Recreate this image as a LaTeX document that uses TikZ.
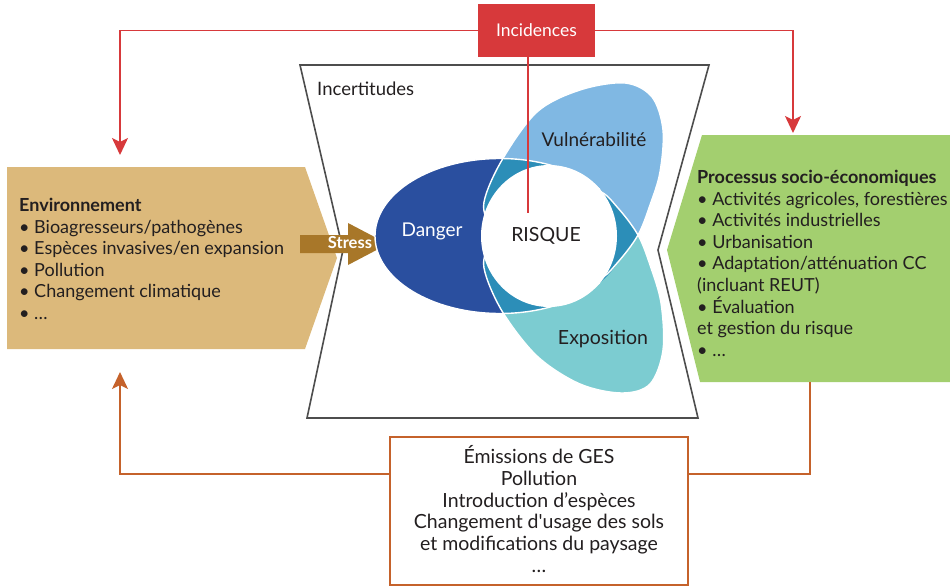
\documentclass[tikz,border=0pt]{standalone}
\usepackage{fontspec}
\setmainfont{Lato}
\usetikzlibrary{arrows.meta}
\definecolor{cred}{HTML}{D7393B}
\definecolor{corange}{HTML}{C5622B}
\definecolor{ctan}{HTML}{DCB97B}
\definecolor{cgreen}{HTML}{A3CF6F}
\definecolor{cdanger}{HTML}{2A4F9F}
\definecolor{cvuln}{HTML}{80B8E3}
\definecolor{cexpo}{HTML}{7CCCD1}
\definecolor{cteal}{HTML}{2C8EB8}
\definecolor{cstress}{HTML}{A87729}
\definecolor{cgray}{HTML}{4D4D4D}
\definecolor{ctext}{HTML}{231F20}
\tikzset{
  lbl/.style={font=\fontsize{19}{22}\selectfont, inner sep=0pt, text=ctext},
  blk/.style={font=\fontsize{18}{21.6}\selectfont, align=left, inner sep=0pt, anchor=north west, text=ctext},
  redln/.style={draw=cred, line width=1.8pt},
  orln/.style={draw=corange, line width=1.8pt},
  tipend/.style={-{Stealth[length=17pt,width=16pt,inset=4pt]}},
  dshape/.style={insert path={(500,236) ellipse [x radius=125pt, y radius=77.5pt]}},
  vshape/.style={insert path={plot[smooth cycle, tension=0.55] coordinates {
    (638,235) (618,262) (598,280) (555,292) (505,265) (490,228) (484,202) (502,160)
    (537,112) (580,90) (625,83) (652,97) (663,130) (660,172) (650,205)}}},
  eshape/.style={insert path={plot[smooth cycle, tension=0.55] coordinates {
    (638,235) (618,208) (598,190) (555,178) (505,205) (490,242) (484,268) (502,311)
    (537,356) (580,384) (622,393) (650,384) (663,350) (661,303) (650,265)}}},
}
\begin{document}
\begin{tikzpicture}[x=1pt,y=-1pt]
\useasboundingbox (0,0) rectangle (950,586);

% side boxes
\fill[ctan] (7,167) -- (305,167) -- (337,258) -- (305,349) -- (7,349) -- cycle;
\fill[cgreen] (702,135) -- (950,135) -- (950,382) -- (700,382) -- (667,250) -- cycle;

% uncertainty frame
\draw[cgray, line width=1.6pt, line join=miter] (300,65) -- (709,65) -- (658,250) -- (698,418) -- (307,418) -- (343,250) -- cycle;
\node[lbl, anchor=west, font=\fontsize{18.5}{22}\selectfont] (incert) at (317,89) {Incertitudes};

% stress arrow
\fill[cstress] (300,235) -- (348,235) -- (348,223) -- (388,244) -- (348,265) -- (348,253) -- (300,253) -- cycle;
\node[lbl, font=\fontsize{16.5}{18}\selectfont\bfseries, text=white] (stress) at (350,243) {Stress};

% venn
\fill[cdanger, dshape];
\fill[cvuln, vshape];
\fill[cexpo, eshape];
\begin{scope}
  \clip[dshape];
  \fill[cteal, vshape];
  \fill[cteal, eshape];
\end{scope}
\begin{scope}
  \clip[vshape];
  \fill[cteal, eshape];
\end{scope}
\begin{scope}
  \clip (0,0) rectangle (600,586);
  \draw[white, line width=1.4pt, dshape];
\end{scope}
\draw[white, line width=1.4pt, vshape];
\draw[white, line width=1.4pt, eshape];
\fill[white] (549,236) ellipse [x radius=68pt, y radius=71pt];

\node[lbl, text=white] (danger) at (432,231) {Danger};
\node[lbl, font=\fontsize{19.5}{22}\selectfont] (risque) at (546,236) {RISQUE};
\node[lbl] (vuln) at (594,140) {Vulnérabilité};
\node[lbl, font=\fontsize{19.5}{22}\selectfont] (expo) at (603,339) {Exposition};

% text blocks
\node[blk] (env) at (19,198) {\textbf{Environnement}\\
• Bioagresseurs/pathogènes\\
• Espèces invasives/en expansion\\
• Pollution\\
• Changement climatique\\
• …};
\node[blk] (proc) at (697,170) {\textbf{Processus socio-économiques}\\
• Activités agricoles, forestières\\
• Activités industrielles\\
• Urbanisation\\
• Adaptation/atténuation CC\\
(incluant REUT)\\
• Évaluation\\
et gestion du risque\\
• …};

% Incidences
\node[fill=cred, text=white, minimum width=117pt, minimum height=53pt, inner sep=0pt,
      font=\fontsize{17.5}{20}\selectfont] (inc) at (536.5,30.5) {Incidences};
\coordinate (envin) at (120,155);
\coordinate (procin) at (793,133);
\coordinate (riskend) at (528,213);
\draw[redln, tipend] (inc.west) -| (envin);
\draw[redln, tipend] (inc.east) -| (procin);
\draw[redln] (riskend |- inc.south) -- (riskend);

% bottom box
\node[draw=corange, line width=1.8pt, fill=white, minimum width=298pt, minimum height=148pt,
      inner sep=0pt] (emis) at (539,511) {};
\node[align=center, inner sep=0pt, text=ctext, font=\fontsize{19.5}{21.9}\selectfont] (emistext) at (539,509)
  {Émissions de GES\\ Pollution\\ Introduction d’espèces\\ Changement d\textquotesingle usage des sols\\ et modifications du paysage\\ …};
\coordinate (oy) at (0,474);
\coordinate (envback) at (120,372);
\coordinate (procback) at (810,382);
\draw[orln, tipend] (emis.west |- oy) -| (envback);
\draw[orln] (emis.east |- oy) -| (procback);
\end{tikzpicture}
\end{document}
